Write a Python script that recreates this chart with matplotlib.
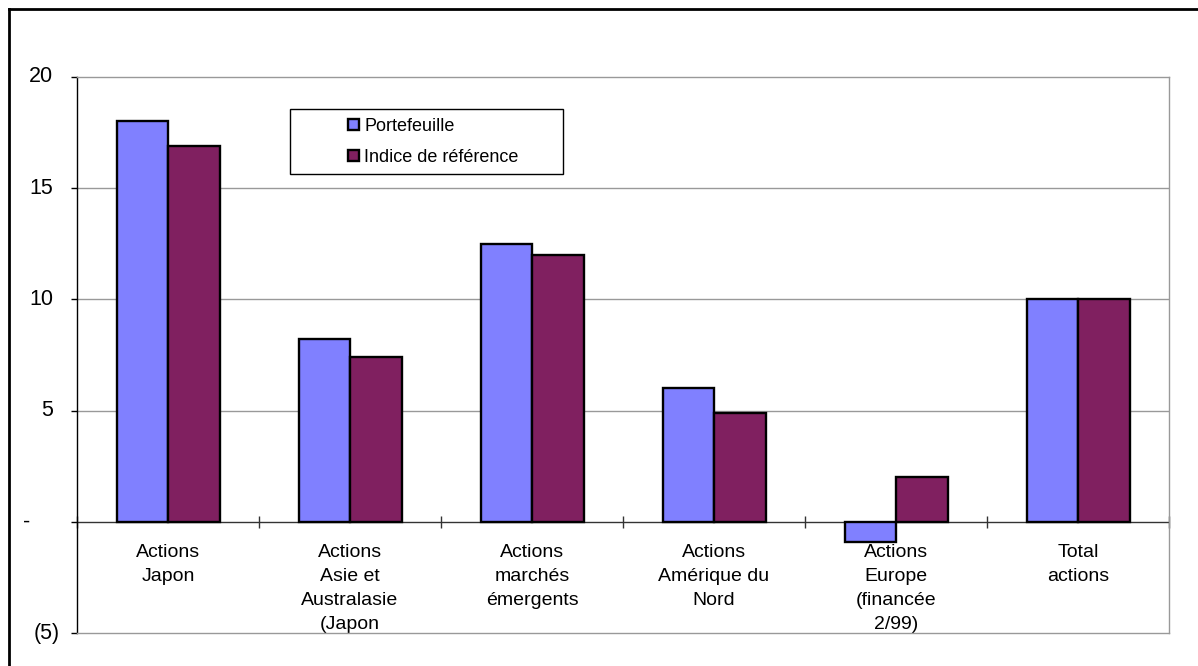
import numpy as np
import matplotlib.pyplot as plt
from matplotlib.lines import Line2D
from matplotlib.patches import Rectangle
from matplotlib.transforms import offset_copy, blended_transform_factory

plt.rcParams['font.family'] = ['Liberation Sans', 'DejaVu Sans']

categories = ["Actions\nJapon",
              "Actions\nAsie et\nAustralasie\n(Japon",
              "Actions\nmarchés\némergents",
              "Actions\nAmérique du\nNord",
              "Actions\nEurope\n(financée\n2/99)",
              "Total\nactions"]
portefeuille = [18.0, 8.2, 12.5, 6.0, -0.9, 10.0]
indice = [16.9, 7.4, 12.0, 4.9, 2.0, 10.0]
yticks = [20, 15, 10, 5, 0, -5]
ylabels = ["20", "15", "10", "5", "-", "(5)"]

fig = plt.figure(figsize=(11.98, 6.66), dpi=100)
ax = fig.add_axes([0.0643, 0.0495, 0.9115, 0.8349])

x = np.arange(len(categories))
w = 0.283
ax.bar(x - w / 2, portefeuille, w, color='#8080FF', edgecolor='black',
       linewidth=1.7, zorder=3, label='Portefeuille')
ax.bar(x + w / 2, indice, w, color='#802060', edgecolor='black',
       linewidth=1.7, zorder=3, label='Indice de référence')

ax.set_xlim(-0.5, len(categories) - 0.5)
ax.set_ylim(-5, 20)

# grid and frame
for yv in [5, 10, 15]:
    ax.axhline(yv, color='#999999', linewidth=1, zorder=1)
for side in ['top', 'right', 'bottom']:
    ax.spines[side].set_color('#999999')
    ax.spines[side].set_linewidth(1)
ax.spines['left'].set_color('black')
ax.spines['left'].set_linewidth(1)

# category axis at zero with ticks between groups
ax.axhline(0, color='#333333', linewidth=1, zorder=2)
bounds = np.arange(len(categories) + 1) - 0.5
ax.plot(bounds, np.zeros_like(bounds), linestyle='none', marker='|',
        markersize=8, color='#333333', markeredgewidth=1, zorder=2,
        clip_on=False)

ax.set_xticks([])
ax.set_yticks(yticks)
ax.set_yticklabels([])
ax.tick_params(axis='y', length=4, width=1, direction='out', color='black')

# y labels in accounting style
trans = blended_transform_factory(ax.transAxes, ax.transData)
for yv, lab in zip(yticks, ylabels):
    if lab == "-":
        t = offset_copy(trans, fig=fig, x=-36, y=0, units='points')
        ax.text(0, yv, lab, transform=t, ha='center', va='center', fontsize=15.5)
    elif lab.startswith("("):
        t = offset_copy(trans, fig=fig, x=-12.2, y=0, units='points')
        ax.text(0, yv, lab, transform=t, ha='right', va='center', fontsize=15.5)
    else:
        t = offset_copy(trans, fig=fig, x=-17.3, y=0, units='points')
        ax.text(0, yv, lab, transform=t, ha='right', va='center', fontsize=15.5)

# category labels under the zero line
for xi, lab in zip(x, categories):
    t = offset_copy(ax.transData, fig=fig, x=0, y=-16, units='points')
    ax.text(xi, 0, lab, transform=t, ha='center', va='top', fontsize=14,
            linespacing=1.55, zorder=1.5)

# legend
ax.add_patch(Rectangle((0.195, 0.8255), 0.25, 0.117, transform=ax.transAxes,
                       facecolor='white', edgecolor='black', linewidth=1,
                       zorder=4))
ax.legend(loc='upper left', bbox_to_anchor=(0.235, 0.952), frameon=False,
          fontsize=13, handlelength=0.6, handleheight=0.6,
          handletextpad=0.3, labelspacing=0.75, borderpad=0.3)

# outer border
fig.add_artist(Line2D([0.0079, 0.0079], [0.0, 0.9865], color='black', linewidth=2))
fig.add_artist(Line2D([0.0079, 1.0], [0.9865, 0.9865], color='black', linewidth=2))

plt.savefig('out.png', dpi=100)
